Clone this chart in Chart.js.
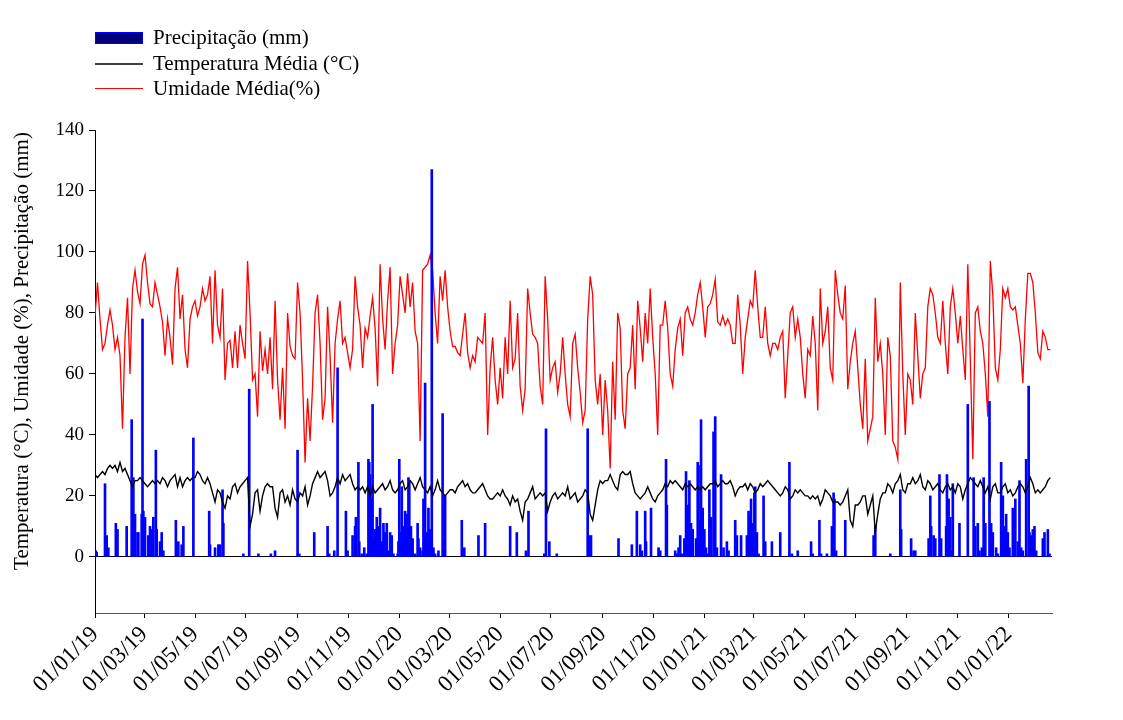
<!DOCTYPE html>
<html>
<head>
<meta charset="utf-8">
<script src="https://cdn.jsdelivr.net/npm/chart.js@4.4.1/dist/chart.umd.min.js"></script>
<style>
  html, body { margin: 0; padding: 0; background: #fff; }
  #wrap { width: 1123px; height: 720px; }
</style>
</head>
<body>
<div id="wrap"><canvas id="chart" width="1123" height="720"></canvas></div>
<script>
// daily series, sampled every 3 days starting 01/01/2019
const startDate = Date.UTC(2019, 0, 1);
const stepDays = 3;
const lastDay = 1148;

const tickLabels = ["01/01/19", "01/03/19", "01/05/19", "01/07/19", "01/09/19", "01/11/19",
  "01/01/20", "01/03/20", "01/05/20", "01/07/20", "01/09/20", "01/11/20",
  "01/01/21", "01/03/21", "01/05/21", "01/07/21", "01/09/21", "01/11/21", "01/01/22"];
const yTicks = [0, 20, 40, 60, 80, 100, 120, 140];
const yTitle = "Temperatura (°C), Umidade (%), Precipitação (mm)";

const humidity = [
  79, 90, 78, 68, 70, 76, 81, 76, 68, 72, 66, 42, 72, 85, 60, 88, 94, 87, 83, 96, 99, 90, 83, 82, 90, 86, 82, 77, 66, 78, 72, 63, 88, 95, 78,
  86, 68, 62, 78, 82, 84, 79, 82, 88, 84, 86, 92, 70, 94, 76, 72, 88, 58, 70, 71, 62, 74, 62, 76, 70, 65, 97, 80, 58, 60, 46, 74, 61, 68, 60,
  72, 55, 84, 58, 45, 62, 42, 80, 69, 66, 65, 90, 80, 58, 31, 52, 38, 56, 80, 86, 70, 45, 52, 82, 66, 44, 70, 78, 84, 70, 72, 67, 62, 68, 92,
  82, 76, 62, 75, 72, 79, 85, 75, 56, 96, 78, 68, 84, 95, 60, 70, 76, 92, 86, 80, 93, 82, 90, 74, 70, 38, 94, 95, 96, 99, 94, 80, 70, 92, 84,
  94, 82, 74, 69, 69, 67, 66, 73, 80, 67, 62, 66, 64, 72, 71, 70, 80, 40, 62, 72, 58, 50, 62, 52, 72, 60, 84, 62, 65, 80, 56, 48, 55, 88, 80,
  73, 72, 70, 56, 50, 92, 78, 58, 62, 64, 54, 60, 72, 60, 50, 46, 70, 73, 62, 54, 44, 48, 78, 92, 86, 58, 50, 60, 40, 58, 48, 29, 64, 45, 80, 75,
  48, 42, 60, 62, 76, 55, 84, 75, 64, 80, 70, 88, 72, 60, 40, 76, 76, 84, 75, 60, 56, 68, 75, 78, 66, 80, 82, 78, 76, 80, 86, 90, 82, 72, 82,
  83, 86, 91, 77, 76, 79, 76, 78, 76, 70, 70, 86, 76, 60, 72, 78, 84, 82, 94, 82, 72, 72, 82, 70, 66, 70, 70, 68, 72, 74, 52, 66, 80, 82, 72,
  78, 72, 60, 52, 68, 66, 79, 70, 48, 88, 70, 74, 82, 62, 58, 94, 86, 80, 78, 89, 55, 64, 70, 74, 62, 50, 42, 65, 38, 42, 46, 85, 64, 70, 60,
  40, 72, 66, 38, 36, 32, 90, 60, 40, 60, 58, 50, 80, 66, 52, 60, 62, 82, 88, 86, 80, 72, 70, 84, 70, 60, 82, 88, 80, 70, 79, 68, 58, 96, 65,
  32, 80, 82, 74, 70, 60, 46, 97, 86, 62, 58, 68, 88, 85, 88, 82, 81, 82, 76, 70, 57, 78, 93, 93, 90, 80, 67, 65, 74, 72, 68, 68
];

const temperature = [
  27, 26, 27, 28, 27, 29, 30, 29, 30, 28, 31, 28, 29, 27, 25, 23, 25, 25, 26, 25, 24, 23, 24, 25, 24, 25, 24, 26, 25, 23, 25, 26, 27, 23, 26,
  23, 25, 26, 25, 26, 26, 28, 27, 25, 24, 26, 24, 21, 18, 22, 21, 18, 16, 20, 19, 23, 24, 21, 23, 24, 25, 26, 10, 14, 21, 22, 15, 20, 23, 24,
  23, 23, 16, 13, 21, 22, 18, 20, 17, 22, 19, 18, 21, 20, 23, 17, 20, 24, 26, 28, 26, 27, 28, 25, 20, 21, 23, 26, 24, 27, 25, 26, 27, 24, 22,
  23, 22, 23, 21, 23, 20, 23, 21, 22, 23, 24, 22, 23, 25, 22, 21, 22, 24, 25, 22, 23, 25, 24, 22, 24, 26, 23, 22, 21, 23, 20, 22, 25, 22, 21,
  20, 21, 22, 22, 21, 23, 24, 25, 23, 24, 22, 21, 21, 22, 23, 24, 22, 20, 19, 19, 20, 21, 20, 22, 20, 19, 17, 20, 18, 19, 15, 12, 18, 19, 21,
  23, 19, 20, 21, 20, 21, 15, 18, 20, 21, 19, 20, 21, 20, 23, 19, 20, 21, 18, 19, 20, 22, 21, 14, 12, 17, 22, 25, 24, 25, 25, 27, 25, 23, 22, 27,
  28, 27, 27, 28, 24, 21, 20, 19, 20, 21, 23, 21, 19, 18, 20, 21, 22, 24, 23, 25, 24, 25, 24, 23, 22, 24, 23, 24, 23, 22, 23, 22, 23, 22, 23,
  24, 24, 25, 23, 24, 25, 24, 24, 25, 23, 20, 22, 23, 23, 24, 22, 24, 23, 21, 22, 24, 23, 24, 25, 24, 23, 22, 21, 20, 21, 23, 22, 19, 20, 22,
  21, 22, 21, 20, 20, 19, 20, 19, 20, 17, 19, 22, 21, 20, 18, 18, 18, 17, 18, 20, 22, 12, 10, 17, 17, 18, 20, 20, 14, 17, 20, 8, 14, 19, 21,
  21, 24, 23, 21, 24, 25, 27, 22, 21, 24, 24, 26, 24, 25, 27, 23, 22, 25, 24, 22, 23, 24, 22, 21, 23, 24, 22, 23, 21, 24, 23, 19, 22, 24, 26,
  25, 24, 23, 25, 23, 21, 23, 19, 23, 24, 21, 21, 23, 24, 21, 22, 20, 21, 23, 24, 23, 21, 23, 26, 24, 21, 22, 21, 22, 23, 25, 26
];

// [day since 01/01/19, mm]
const rainEvents = [
  [1, 2], [2, 1.5], [12, 24], [14, 7], [16, 3], [25, 11], [27, 9], [38, 10], [44, 45], [46, 26], [47, 8], [48, 14], [51, 8], [52, 8],
  [56, 14], [57, 78], [58, 15], [60, 13], [64, 7], [66, 10], [68, 9], [70, 13], [73, 35], [74, 9], [78, 5], [80, 8], [82, 2], [97, 12], [100, 5],
  [104, 4], [106, 10], [118, 39], [137, 15], [138, 4], [144, 3], [148, 4], [150, 4], [153, 22], [154, 11], [178, 1], [185, 55], [196, 1],
  [211, 1], [216, 2], [243, 35], [245, 1], [263, 8], [279, 10], [281, 1], [287, 2], [291, 62], [301, 15], [303, 2], [309, 7], [312, 10], [313, 13],
  [316, 31], [317, 5], [320, 1], [323, 3], [326, 1], [328, 32], [329, 31], [330, 27], [331, 19], [333, 50], [334, 6], [336, 9], [338, 13],
  [340, 10], [342, 16], [344, 5], [346, 11], [348, 8], [350, 11], [352, 2], [354, 8], [356, 7], [358, 1], [363, 1], [364, 5], [365, 32],
  [367, 8], [368, 23], [370, 10], [372, 15], [374, 14], [376, 26], [377, 25], [379, 10], [381, 6], [384, 1], [387, 11], [388, 6], [390, 3],
  [393, 2], [394, 19], [396, 57], [398, 8], [400, 16], [402, 9], [404, 127], [406, 3], [408, 1], [412, 2], [417, 47], [419, 5],
  [420, 20], [440, 12], [443, 3], [460, 7], [468, 11], [498, 10], [506, 8], [517, 2], [520, 15],
  [539, 1], [541, 42], [545, 5], [554, 1], [591, 42], [593, 7], [595, 7], [628, 6],
  [644, 4], [650, 15], [654, 4], [656, 2], [660, 15], [661, 5], [667, 16], [676, 3], [678, 2], [685, 32], [686, 17], [696, 2], [698, 1],
  [700, 3], [702, 7], [704, 1], [707, 6], [709, 28], [711, 17], [713, 25], [715, 11], [717, 9], [721, 6], [723, 31], [724, 30], [726, 12],
  [727, 45], [729, 16], [731, 9], [733, 3], [735, 1],
  [737, 22], [739, 13], [742, 41], [744, 46], [746, 3], [751, 27], [754, 3], [758, 5], [760, 2], [768, 12], [770, 7], [775, 7], [782, 7],
  [784, 15], [786, 13], [787, 19], [789, 11], [791, 21], [792, 23], [794, 8], [796, 1], [802, 20], [804, 5], [812, 5], [822, 8], [833, 31], [836, 1],
  [843, 2], [859, 5], [861, 1], [869, 12], [871, 1], [878, 1], [884, 10], [886, 21], [887, 19], [889, 2], [900, 12], [934, 7], [936, 10],
  [954, 1], [966, 22], [967, 9], [979, 6], [982, 2], [984, 2], [1000, 6], [1002, 20], [1003, 10], [1006, 7], [1008, 6], [1013, 27], [1015, 6],
  [1021, 10], [1022, 27], [1024, 19], [1026, 13], [1027, 2], [1029, 24], [1037, 11], [1047, 50],
  [1054, 26], [1056, 10], [1059, 11], [1061, 2], [1064, 3], [1066, 26], [1068, 11], [1073, 51], [1075, 11], [1077, 8], [1081, 3], [1083, 1],
  [1087, 31], [1089, 20], [1091, 10], [1093, 14], [1095, 8], [1097, 3], [1101, 16], [1103, 15], [1104, 19], [1107, 5], [1109, 25], [1111, 3],
  [1113, 2], [1117, 32], [1120, 56], [1121, 8], [1123, 7], [1125, 9], [1127, 10], [1129, 2], [1137, 6], [1139, 8], [1143, 9], [1145, 1]
];

const dayOf = (lbl) => {
  const [d, m, y] = lbl.split("/").map(Number);
  return Math.round((Date.UTC(2000 + y, m - 1, d) - startDate) / 864e5);
};
const tickDays = tickLabels.map(dayOf);
const toPoints = (arr) => arr.map((v, i) => ({ x: i * stepDays, y: v }));

const serif = "'Liberation Serif', 'Times New Roman', serif";

// legend rows + rotated y title drawn by hand to match the original layout
const overlay = {
  id: "overlay",
  afterDraw(chart) {
    const c = chart.ctx;
    const ds = chart.data.datasets;
    c.save();
    c.font = "21px " + serif;
    c.fillStyle = "#000";
    c.textBaseline = "middle";
    c.textAlign = "left";

    // Precipitação
    c.fillStyle = "#00007a";
    c.fillRect(95, 32, 48, 12);
    c.strokeStyle = "#0000ff";
    c.lineWidth = 1;
    c.strokeRect(95.5, 32.5, 47, 11);
    c.fillStyle = "#000";
    c.fillText(ds[1].label, 153, 38);

    // Temperatura
    c.strokeStyle = "#000";
    c.lineWidth = 1.3;
    c.beginPath(); c.moveTo(95, 64); c.lineTo(143, 64); c.stroke();
    c.fillText(ds[2].label, 153, 64);

    // Umidade
    c.strokeStyle = "#ff0000";
    c.lineWidth = 1;
    c.beginPath(); c.moveTo(95, 88.5); c.lineTo(143, 88.5); c.stroke();
    c.fillText(ds[0].label, 153, 89);

    c.translate(22, 351);
    c.rotate(-Math.PI / 2);
    c.textAlign = "center";
    c.fillText(yTitle, 0, 0);
    c.restore();
  }
};

new Chart(document.getElementById("chart").getContext("2d"), {
  data: {
    datasets: [
      {
        type: "line",
        label: "Umidade Média(%)",
        data: toPoints(humidity),
        borderColor: "#ff0000",
        borderWidth: 1.3,
        pointRadius: 0,
        tension: 0,
        order: 3,
      },
      {
        type: "bar",
        label: "Precipitação (mm)",
        data: rainEvents.map(([x, y]) => ({ x, y })),
        backgroundColor: "#0000ff",
        borderWidth: 0,
        barThickness: 2,
        grouped: false,
        order: 2,
      },
      {
        type: "line",
        label: "Temperatura Média (°C)",
        data: toPoints(temperature),
        borderColor: "#000",
        borderWidth: 1.4,
        pointRadius: 0,
        tension: 0,
        order: 1,
      },
    ],
  },
  options: {
    responsive: false,
    animation: false,
    layout: { padding: { top: 130, right: 71, left: 0, bottom: 0 } },
    plugins: { legend: { display: false }, tooltip: { enabled: false } },
    scales: {
      x: {
        type: "linear",
        offset: false,
        min: 0,
        max: lastDay,
        afterBuildTicks: (s) => { s.ticks = tickDays.map((v) => ({ value: v })); },
        afterFit: (s) => { s.height = 107; },
        ticks: {
          autoSkip: false,
          minRotation: 45,
          maxRotation: 45,
          padding: 3,
          color: "#000",
          font: { family: serif, size: 23 },
          callback: (v) => tickLabels[tickDays.indexOf(v)],
        },
        grid: { offset: false, drawOnChartArea: false, tickLength: 5, color: "#000" },
        border: { color: "#555" },
      },
      y: {
        min: -18.4,
        max: 140,
        afterBuildTicks: (s) => { s.ticks = yTicks.map((v) => ({ value: v })); },
        afterFit: (s) => { s.width = 95; },
        ticks: { color: "#000", padding: 5, font: { family: serif, size: 19 } },
        grid: {
          color: (ctx) => (ctx.tick && ctx.tick.value === 0 ? "#000" : "rgba(0,0,0,0)"),
          tickColor: "#000",
          tickLength: 6,
        },
        border: { color: "#000" },
      },
    },
  },
  plugins: [overlay],
});
</script>
</body>
</html>
